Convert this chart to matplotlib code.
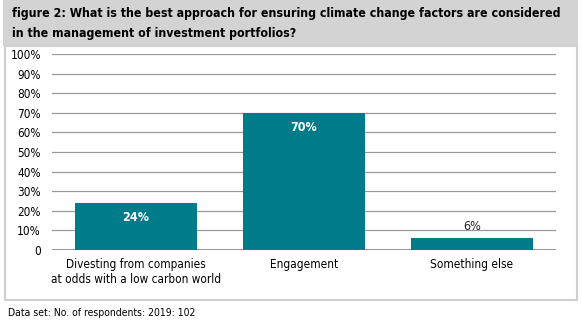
import matplotlib.pyplot as plt
from matplotlib.patches import Rectangle

categories = ['Divesting from companies\nat odds with a low carbon world', 'Engagement', 'Something else']
values = [24, 70, 6]
yticks = [0, 10, 20, 30, 40, 50, 60, 70, 80, 90, 100]
ytick_labels = ['0'] + ['%d%%' % t for t in yticks[1:]]

TEAL = '#007b8a'
W, H = 582, 325

plt.rcParams['font.family'] = ['DejaVu Sans']
plt.rcParams['font.stretch'] = 'condensed'

fig = plt.figure(figsize=(W / 100, H / 100), dpi=100)

# header band and bordered panel
fig.patches.append(Rectangle((3 / W, 1 - 46 / H), 575 / W, 46 / H, transform=fig.transFigure,
                             facecolor='#d3d3d3', edgecolor='none', zorder=-2))
fig.patches.append(Rectangle((5 / W, 1 - 300 / H), 572 / W, 254 / H, transform=fig.transFigure,
                             facecolor='white', edgecolor='#d0d0d0', linewidth=1.5, zorder=-1))
fig.text(12 / W, 1 - 14 / H, 'figure 2: What is the best approach for ensuring climate change factors are considered',
         fontsize=8.9, fontweight='bold', va='center', ha='left')
fig.text(12 / W, 1 - 33 / H, 'in the management of investment portfolios?',
         fontsize=8.9, fontweight='bold', va='center', ha='left')
fig.text(8 / W, 1 - 313 / H, 'Data set: No. of respondents: 2019: 102', fontsize=7.5, va='center', ha='left')

ax = fig.add_axes([52 / W, 1 - 250 / H, 504 / W, 196 / H])
ax.set_zorder(2)
ax.set_facecolor('none')
x = range(len(categories))
bars = ax.bar(x, values, width=0.725, color=TEAL, zorder=3)
ax.set_xlim(-0.5, 2.5)
ax.set_ylim(0, 100)
ax.set_yticks(yticks)
ax.set_yticklabels(ytick_labels, fontsize=8.5)
ax.set_xticks(list(x))
ax.set_xticklabels(categories, fontsize=8.5)
ax.tick_params(length=0, pad=8)
ax.tick_params(axis='x', pad=6)
for t in yticks[1:]:
    ax.axhline(t, color='#999999', linewidth=0.9, zorder=1)
ax.axhline(0, color='#999999', linewidth=2.2, zorder=2)
for s in ax.spines.values():
    s.set_visible(False)

# value labels
for b, v in zip(bars, values):
    if v > 15:
        ax.text(b.get_x() + b.get_width() / 2, v - 7.5, '%d%%' % v, ha='center', va='center',
                color='white', fontsize=9, fontweight='bold', zorder=4)
    else:
        ax.text(b.get_x() + b.get_width() / 2, v + 6, '%d%%' % v, ha='center', va='center',
                color='#222222', fontsize=9, zorder=4)

fig.savefig('out.png', dpi=100)
